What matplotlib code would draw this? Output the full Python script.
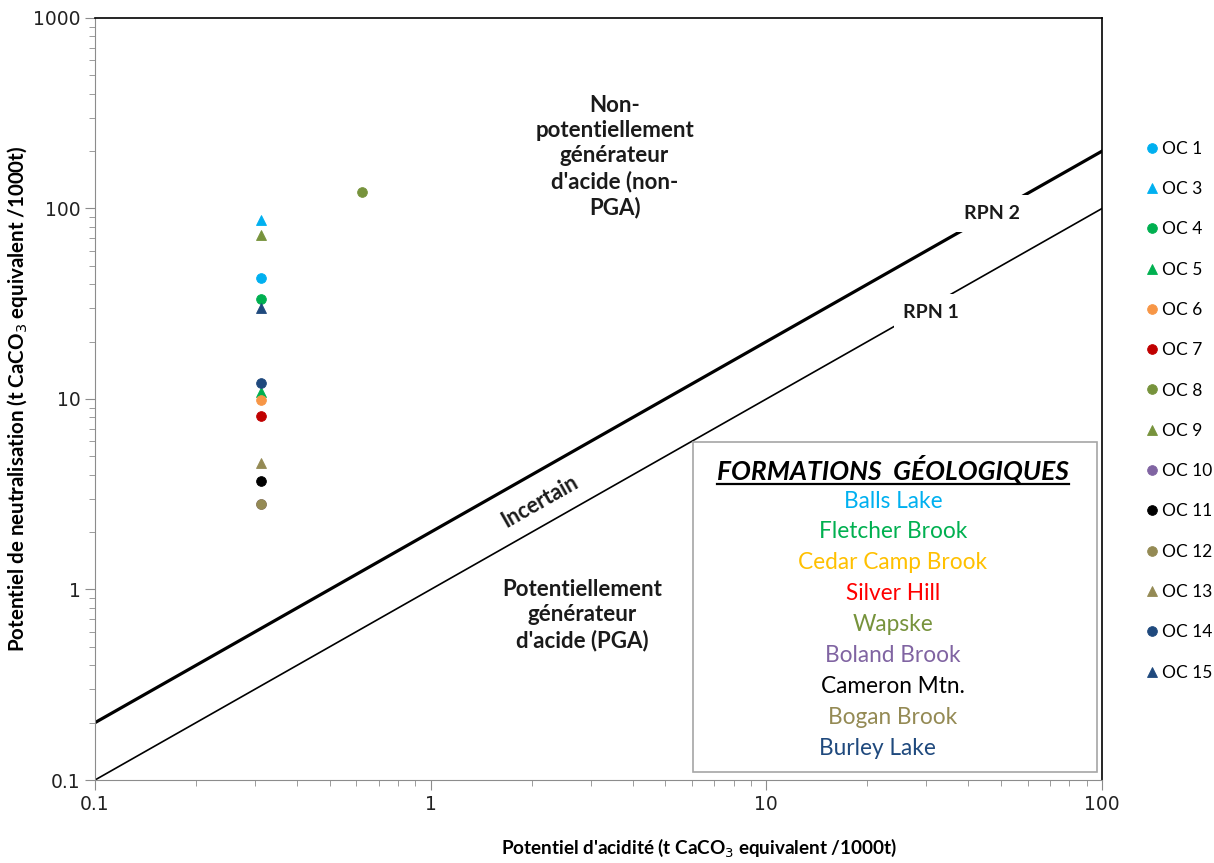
"""Acid-base accounting plot: neutralisation vs acidity potential."""

import matplotlib
matplotlib.use("Agg")
import matplotlib.pyplot as plt
from matplotlib.lines import Line2D
from matplotlib.patches import Rectangle
import numpy as np


SAMPLES = ["OC 1", "OC 3", "OC 4", "OC 5", "OC 6", "OC 7", "OC 8",
           "OC 9", "OC 10", "OC 11", "OC 12", "OC 13", "OC 14", "OC 15"]
PA = [0.3125, 0.3125, 0.3125, 0.3125, 0.3125, 0.3125, 0.625,
      0.3125, 0.3125, 0.3125, 0.3125, 0.3125, 0.3125, 0.3125]
PN = [43.3, 87.0, 33.4, 10.9, 9.9, 8.1, 122.0,
      72.6, 2.8, 3.7, 2.8, 4.6, 12.1, 29.9]
COLORS = ["#00B0F0", "#00B0F0", "#00B050", "#00B050", "#F79646", "#C00000",
          "#77933C", "#77933C", "#8064A2", "#000000", "#948A54", "#948A54",
          "#1F497D", "#1F497D"]
MARKERS = ["o", "^", "o", "^", "o", "o", "o", "^", "o", "o", "o", "^", "o", "^"]

FORMATIONS = ["Balls Lake", "Fletcher Brook", "Cedar Camp Brook", "Silver Hill",
              "Wapske", "Boland Brook", "Cameron Mtn.", "Bogan Brook", "Burley Lake"]
FORM_COLORS = ["#00B0F0", "#00B050", "#FFC000", "#FF0000", "#77933C",
               "#8064A2", "#000000", "#948A54", "#1F497D"]

LINE_X = [0.1, 100]
RPN_RATIOS = [1, 2]

TXT = "Lato"
W, H = 1214, 863

fig = plt.figure(figsize=(W / 100, H / 100), dpi=100)
ax = fig.add_axes([95 / W, 1 - 780 / H, 1007 / W, 762 / H])
ax.set_xscale("log")
ax.set_yscale("log")
ax.set_xlim(0.1, 100)
ax.set_ylim(0.1, 1000)

# RPN lines
x_line = np.array(LINE_X)
ax.plot(x_line, RPN_RATIOS[0] * x_line, color="black", lw=1.2, zorder=2)
ax.plot(x_line, RPN_RATIOS[1] * x_line, color="black", lw=2.3, zorder=2)

for name, x, y, c, m in zip(SAMPLES, PA, PN, COLORS, MARKERS):
    ax.plot([x], [y], linestyle="none", marker=m, color=c, markersize=7,
            markeredgewidth=0.6, label=name, zorder=3)

# spines / ticks
for side in ["left", "bottom"]:
    ax.spines[side].set_color("#8c8c8c")
for side in ["top", "right"]:
    ax.spines[side].set_color("black")
    ax.spines[side].set_linewidth(1.2)
ax.tick_params(which="both", direction="out", colors="#8c8c8c",
               labelcolor="#222222", labelsize=13.5)
ax.tick_params(which="major", length=7)
ax.tick_params(which="minor", length=4)
ax.set_xticks([0.1, 1, 10, 100])
ax.set_xticklabels(["0.1", "1", "10", "100"])
ax.set_yticks([0.1, 1, 10, 100, 1000])
ax.set_yticklabels(["0.1", "1", "10", "100", "1000"])
for lbl in ax.get_xticklabels() + ax.get_yticklabels():
    lbl.set_family("DejaVu Sans")

# axis titles
fig.text(18 / W, 1 - 399 / H,
         "Potentiel de neutralisation (t CaCO$_3$ equivalent /1000t)",
         rotation=90, ha="center", va="center", fontsize=14.8,
         fontweight="bold", family=TXT)
fig.text(699 / W, 1 - 848 / H,
         "Potentiel d'acidité (t CaCO$_3$ equivalent /1000t)",
         ha="center", va="center", fontsize=13.6, fontweight="bold", family=TXT)

# region labels
ax.text(0.516, 0.818, "Non-\npotentiellement\ngénérateur\nd'acide (non-\nPGA)",
        transform=ax.transAxes, ha="center", va="center", fontsize=16,
        fontweight="bold", family=TXT, linespacing=1.25, color="#1a1a1a")
ax.text(0.4836, 0.2165, "Potentiellement\ngénérateur\nd'acide (PGA)",
        transform=ax.transAxes, ha="center", va="center", fontsize=16,
        fontweight="bold", family=TXT, linespacing=1.25, color="#1a1a1a")
ax.text(0.442, 0.366, "Incertain", transform=ax.transAxes, ha="center",
        va="center", rotation=29.6, rotation_mode="anchor", fontsize=15.5,
        fontweight="bold", family=TXT, color="#1a1a1a")
ax.text(47, 94, "RPN 2", ha="center", va="center", fontsize=14,
        fontweight="bold", family=TXT, color="#1a1a1a", zorder=4,
        bbox=dict(facecolor="white", edgecolor="none", pad=7))
ax.text(31, 28.5, "RPN 1", ha="center", va="center", fontsize=14,
        fontweight="bold", family=TXT, color="#1a1a1a", zorder=4,
        bbox=dict(facecolor="white", edgecolor="none", pad=7))

# formations box
fig.patches.append(Rectangle((693 / W, 1 - 772 / H), 404 / W, 330 / H,
                             transform=fig.transFigure, facecolor="white",
                             edgecolor="#a6a6a6", lw=1.2, zorder=5))
fig.text(893 / W, 1 - 469 / H, "FORMATIONS  GÉOLOGIQUES", ha="center",
         va="center", fontsize=19, fontweight="bold", fontstyle="italic",
         family=TXT, zorder=6)
fig.lines.append(Line2D([717 / W, 1069 / W], [1 - 484 / H, 1 - 484 / H],
                        transform=fig.transFigure, color="black", lw=1.6,
                        zorder=6))
for i, (fname, fc) in enumerate(zip(FORMATIONS, FORM_COLORS)):
    xc = 877 if fname == "Burley Lake" else 893
    fig.text(xc / W, 1 - (501 + 30.9 * i) / H, fname, ha="center",
             va="center", fontsize=16.3, color=fc, family=TXT, zorder=6)

# sample legend outside the plot
leg = fig.legend(loc="upper left", bbox_to_anchor=(1137 / W, 1 - 132 / H),
                 frameon=False, labelspacing=1.4,
                 handlelength=0.7, handletextpad=0.25, borderpad=0,
                 prop={"family": TXT, "size": 12.5})

fig.savefig("out.png", dpi=100)
